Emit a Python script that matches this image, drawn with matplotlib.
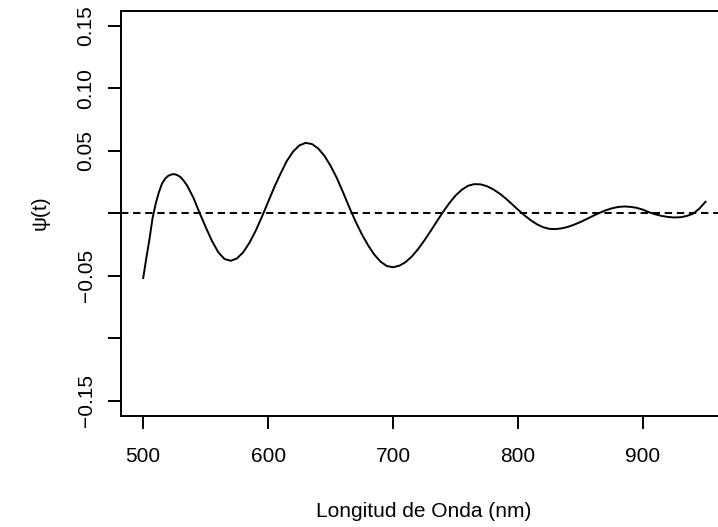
import matplotlib
matplotlib.use("Agg")
import matplotlib.pyplot as plt

# wavelength (nm) and psi(t)
wavelength = [
    500, 502.5, 505, 507.5, 510, 512.5, 515, 517.5, 520, 522.5, 525, 527.5, 530, 532.5,
    535, 540, 545, 550, 555, 560, 565, 570, 575, 580, 585, 590, 595,
    600, 605, 610, 615, 620, 625, 630, 635, 640, 645, 650, 655, 660, 665, 670, 675,
    680, 685, 690, 695, 700, 705, 710, 715, 720, 725, 730, 735, 740, 745, 750, 755,
    760, 765, 770, 775, 780, 785, 790, 795, 800, 805, 810, 815, 820, 825, 830, 835,
    840, 845, 850, 855, 860, 865, 870, 875, 880, 885, 890, 895, 900, 905, 910, 915,
    920, 925, 930, 935, 940, 945, 950,
]
psi = [
    -0.0520, -0.0360, -0.0210, -0.0040, 0.0075, 0.0165, 0.0235, 0.0275, 0.0298, 0.0309,
    0.0312, 0.0303, 0.0287, 0.0258,
    0.0223, 0.0127, 0.0005, -0.0112, -0.0222, -0.0312, -0.0367, -0.0382, -0.0363, -0.0314,
    -0.0238, -0.0142, -0.0030,
    0.0090, 0.0209, 0.0318, 0.0418, 0.0493, 0.0542, 0.0562, 0.0553, 0.0518, 0.0459,
    0.0378, 0.0280, 0.0165, 0.0045, -0.0068, -0.0170, -0.0258, -0.0333, -0.0389, -0.0424,
    -0.0433, -0.0421, -0.0392, -0.0347, -0.0288, -0.0219, -0.0144, -0.0066, 0.0010, 0.0080,
    0.0141, 0.0187, 0.0219, 0.0232, 0.0230, 0.0216, 0.0191, 0.0158, 0.0118, 0.0073,
    0.0027, -0.0017, -0.0056, -0.0089, -0.0113, -0.0126, -0.0128, -0.0122, -0.0110, -0.0092,
    -0.0071, -0.0047, -0.0022, 0.0001, 0.0022, 0.0038, 0.0049, 0.0053, 0.0050, 0.0042,
    0.0027, 0.0006, -0.0010, -0.0023, -0.0031, -0.0035, -0.0033, -0.0023, -0.0005, 0.0035,
    0.0091,
]
assert len(wavelength) == len(psi)

x_ticks = [500, 600, 700, 800, 900]
y_ticks = [-0.15, -0.10, -0.05, 0.0, 0.05, 0.10, 0.15]
y_labels = ["\u22120.15", "", "\u22120.05", "", "0.05", "0.10", "0.15"]

plt.rcParams["font.family"] = ["Liberation Sans", "DejaVu Sans"]
plt.rcParams["lines.scale_dashes"] = False

W, H = 718, 527
fig = plt.figure(figsize=(W / 100, H / 100), dpi=100)
left, right, top, bottom = 120.7, 728.0, 10.7, 415.5
ax = fig.add_axes([left / W, 1 - bottom / H, (right - left) / W, (bottom - top) / H])

ax.plot(wavelength, psi, color="black", lw=1.4, solid_joinstyle="round")
ax.axhline(0, color="black", lw=1.4, dashes=(5.3, 3.4))

ax.set_xlim(482, 968)
ax.set_ylim(-0.162, 0.162)
ax.set_xticks(x_ticks)
ax.set_xticklabels([str(t) for t in x_ticks])
ax.set_yticks(y_ticks)
ax.set_yticklabels(y_labels, rotation=90, va="center")

for s in ax.spines.values():
    s.set_linewidth(1.4)
ax.tick_params(axis="both", direction="out", length=9.2, width=1.4, labelsize=15)
ax.tick_params(axis="x", pad=13.5)
ax.tick_params(axis="y", pad=8.9)

fig.text(424 / W, 1 - 516.7 / H, "Longitud de Onda (nm)", fontsize=15,
         ha="center", va="baseline")
fig.text(40 / W, 1 - 213 / H, "\u03c8(t)", fontsize=15, rotation=90,
         ha="center", va="center")

fig.savefig("out.png", dpi=100)
